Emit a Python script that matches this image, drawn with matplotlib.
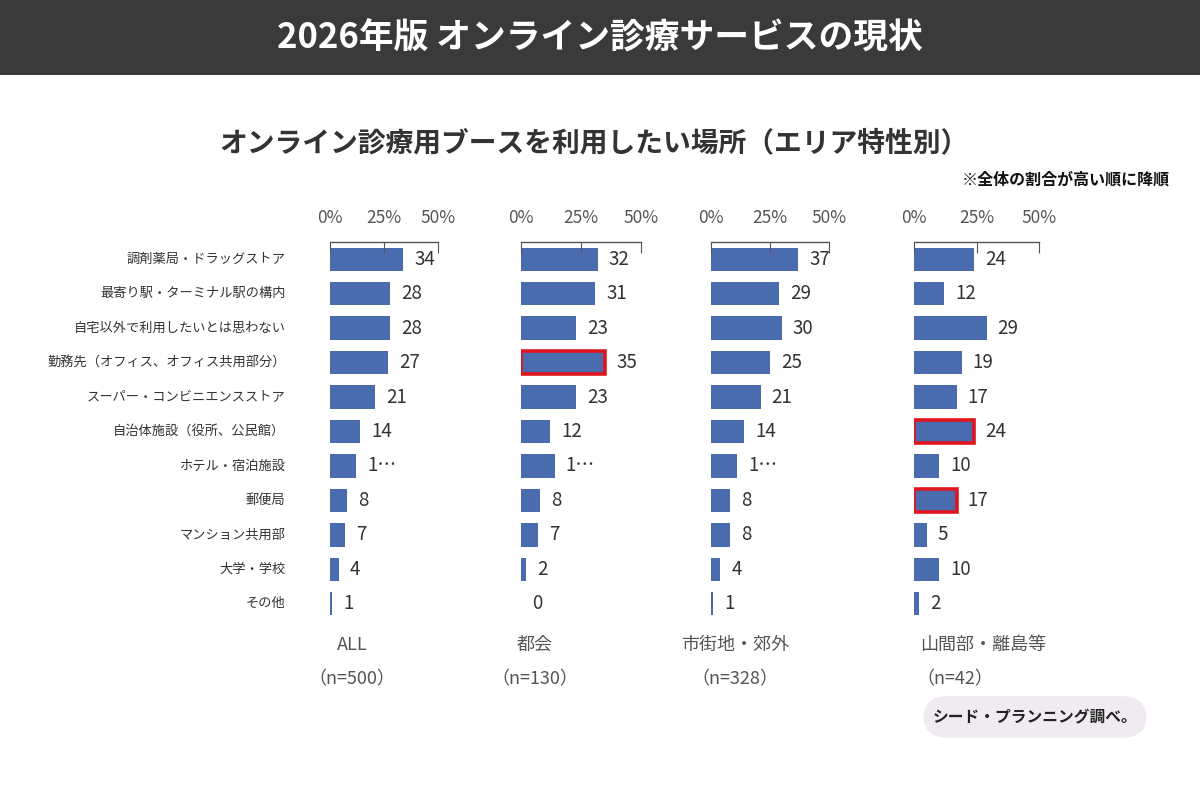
import numpy as np
import matplotlib
matplotlib.use("Agg")
import matplotlib.pyplot as plt
from matplotlib.patches import Rectangle, FancyBboxPatch

plt.rcParams['font.family'] = ['Noto Sans CJK JP', 'DejaVu Sans']

# --- data -------------------------------------------------------------
categories = [
    "調剤薬局・ドラッグストア",
    "最寄り駅・ターミナル駅の構内",
    "自宅以外で利用したいとは思わない",
    "勤務先（オフィス、オフィス共用部分）",
    "スーパー・コンビニエンスストア",
    "自治体施設（役所、公民館）",
    "ホテル・宿泊施設",
    "郵便局",
    "マンション共用部",
    "大学・学校",
    "その他",
]
groups = ["ALL", "都会", "市街地・郊外", "山間部・離島等"]
group_n = ["（n=500）", "（n=130）", "（n=328）", "（n=42）"]

vals_all = [34, 28, 28, 27, 21, 14, 12, 8, 7, 4, 1]
vals_city = [32, 31, 23, 35, 23, 12, 14, 8, 7, 2, 0]
vals_suburb = [37, 29, 30, 25, 21, 14, 11, 8, 8, 4, 1]
vals_rural = [24, 12, 29, 19, 17, 24, 10, 17, 5, 10, 2]
series = [vals_all, vals_city, vals_suburb, vals_rural]

# bars outlined in red (group index -> category indices)
highlight = {1: [3], 3: [5, 7]}
# labels that the original cut off as "1…"
truncated = {0: [6], 1: [6], 2: [6]}

ticks = [0, 25, 50]

# --- layout -----------------------------------------------------------
W, H = 1200, 800
fig = plt.figure(figsize=(12, 8), dpi=100)
fig.patch.set_facecolor("white")


def fx(x):
    return x / W


def fy(y):
    return 1 - y / H


# header band
fig.patches.append(Rectangle((0, fy(75)), 1, 75 / H, transform=fig.transFigure,
                             facecolor="#3a3a3a", edgecolor="none", zorder=0))
fig.text(0.5, fy(38), "2026年版 オンライン診療サービスの現状", color="white",
         fontsize=25, fontweight="bold", ha="center", va="center")

fig.text(fx(594), fy(143), "オンライン診療用ブースを利用したい場所（エリア特性別）",
         color="#333333", fontsize=20, fontweight="bold", ha="center", va="center")
fig.text(fx(1170), fy(180), "※全体の割合が高い順に降順", color="#111111",
         fontsize=11.5, fontweight="bold", ha="right", va="center")

bar_color = "#4a6bae"
panel_x = [(330, 438), (521, 641), (711, 829), (914, 1039)]
top, bottom = 242, 621
label_x = [352, 535, 735, 983]
n_x = [352, 535, 735, 955]

for gi, (x0, x1) in enumerate(panel_x):
    ax = fig.add_axes([fx(x0), fy(bottom), (x1 - x0) / W, (bottom - top) / H])
    vals = series[gi]
    y = np.arange(len(categories))
    edge = ["#e0161e" if i in highlight.get(gi, []) else bar_color for i in y]
    lw = [2.6 if i in highlight.get(gi, []) else 0 for i in y]
    ax.barh(y, vals, height=0.68, color=bar_color, edgecolor=edge, linewidth=lw)
    for i, v in enumerate(vals):
        txt = "1…" if i in truncated.get(gi, []) else f"{v}"
        ax.annotate(txt, (v, i), xytext=(8, 0), textcoords="offset points",
                    ha="left", va="center", fontsize=13.5, color="#333333")
    ax.set_xlim(0, 50)
    ax.set_ylim(len(categories) - 0.5, -0.5)
    for s in ["bottom", "left", "right"]:
        ax.spines[s].set_visible(False)
    ax.spines["top"].set_color("#555555")
    ax.spines["top"].set_linewidth(1)
    ax.xaxis.tick_top()
    ax.set_xticks(ticks)
    ax.set_xticklabels([f"{t}%" for t in ticks])
    ax.tick_params(axis="x", direction="in", length=8, pad=11, labelsize=12.5,
                   labelcolor="#555555", color="#555555")
    ax.set_yticks([])
    ax.patch.set_alpha(0)

    if gi == 0:
        for i, c in enumerate(categories):
            ax.annotate(c, (0, i), xytext=(-32, 0), textcoords="offset points",
                        ha="right", va="center", fontsize=9.5, color="#333333",
                        annotation_clip=False)

    fig.text(fx(label_x[gi]), fy(645), groups[gi], fontsize=13, color="#555555",
             ha="center", va="center")
    fig.text(fx(n_x[gi]), fy(679), group_n[gi], fontsize=13, color="#555555",
             ha="center", va="center")

# source box
box = FancyBboxPatch((fx(928), fy(733)), fx(214), 32 / H,
                     boxstyle="round,pad=0.004,rounding_size=0.02",
                     transform=fig.transFigure, facecolor="#efebf0",
                     edgecolor="none", mutation_aspect=1.5)
fig.patches.append(box)
fig.text(fx(1035), fy(717), "シード・プランニング調べ。", fontsize=11.3,
         fontweight="bold", color="#222222", ha="center", va="center")

fig.savefig("out.png", dpi=100)
